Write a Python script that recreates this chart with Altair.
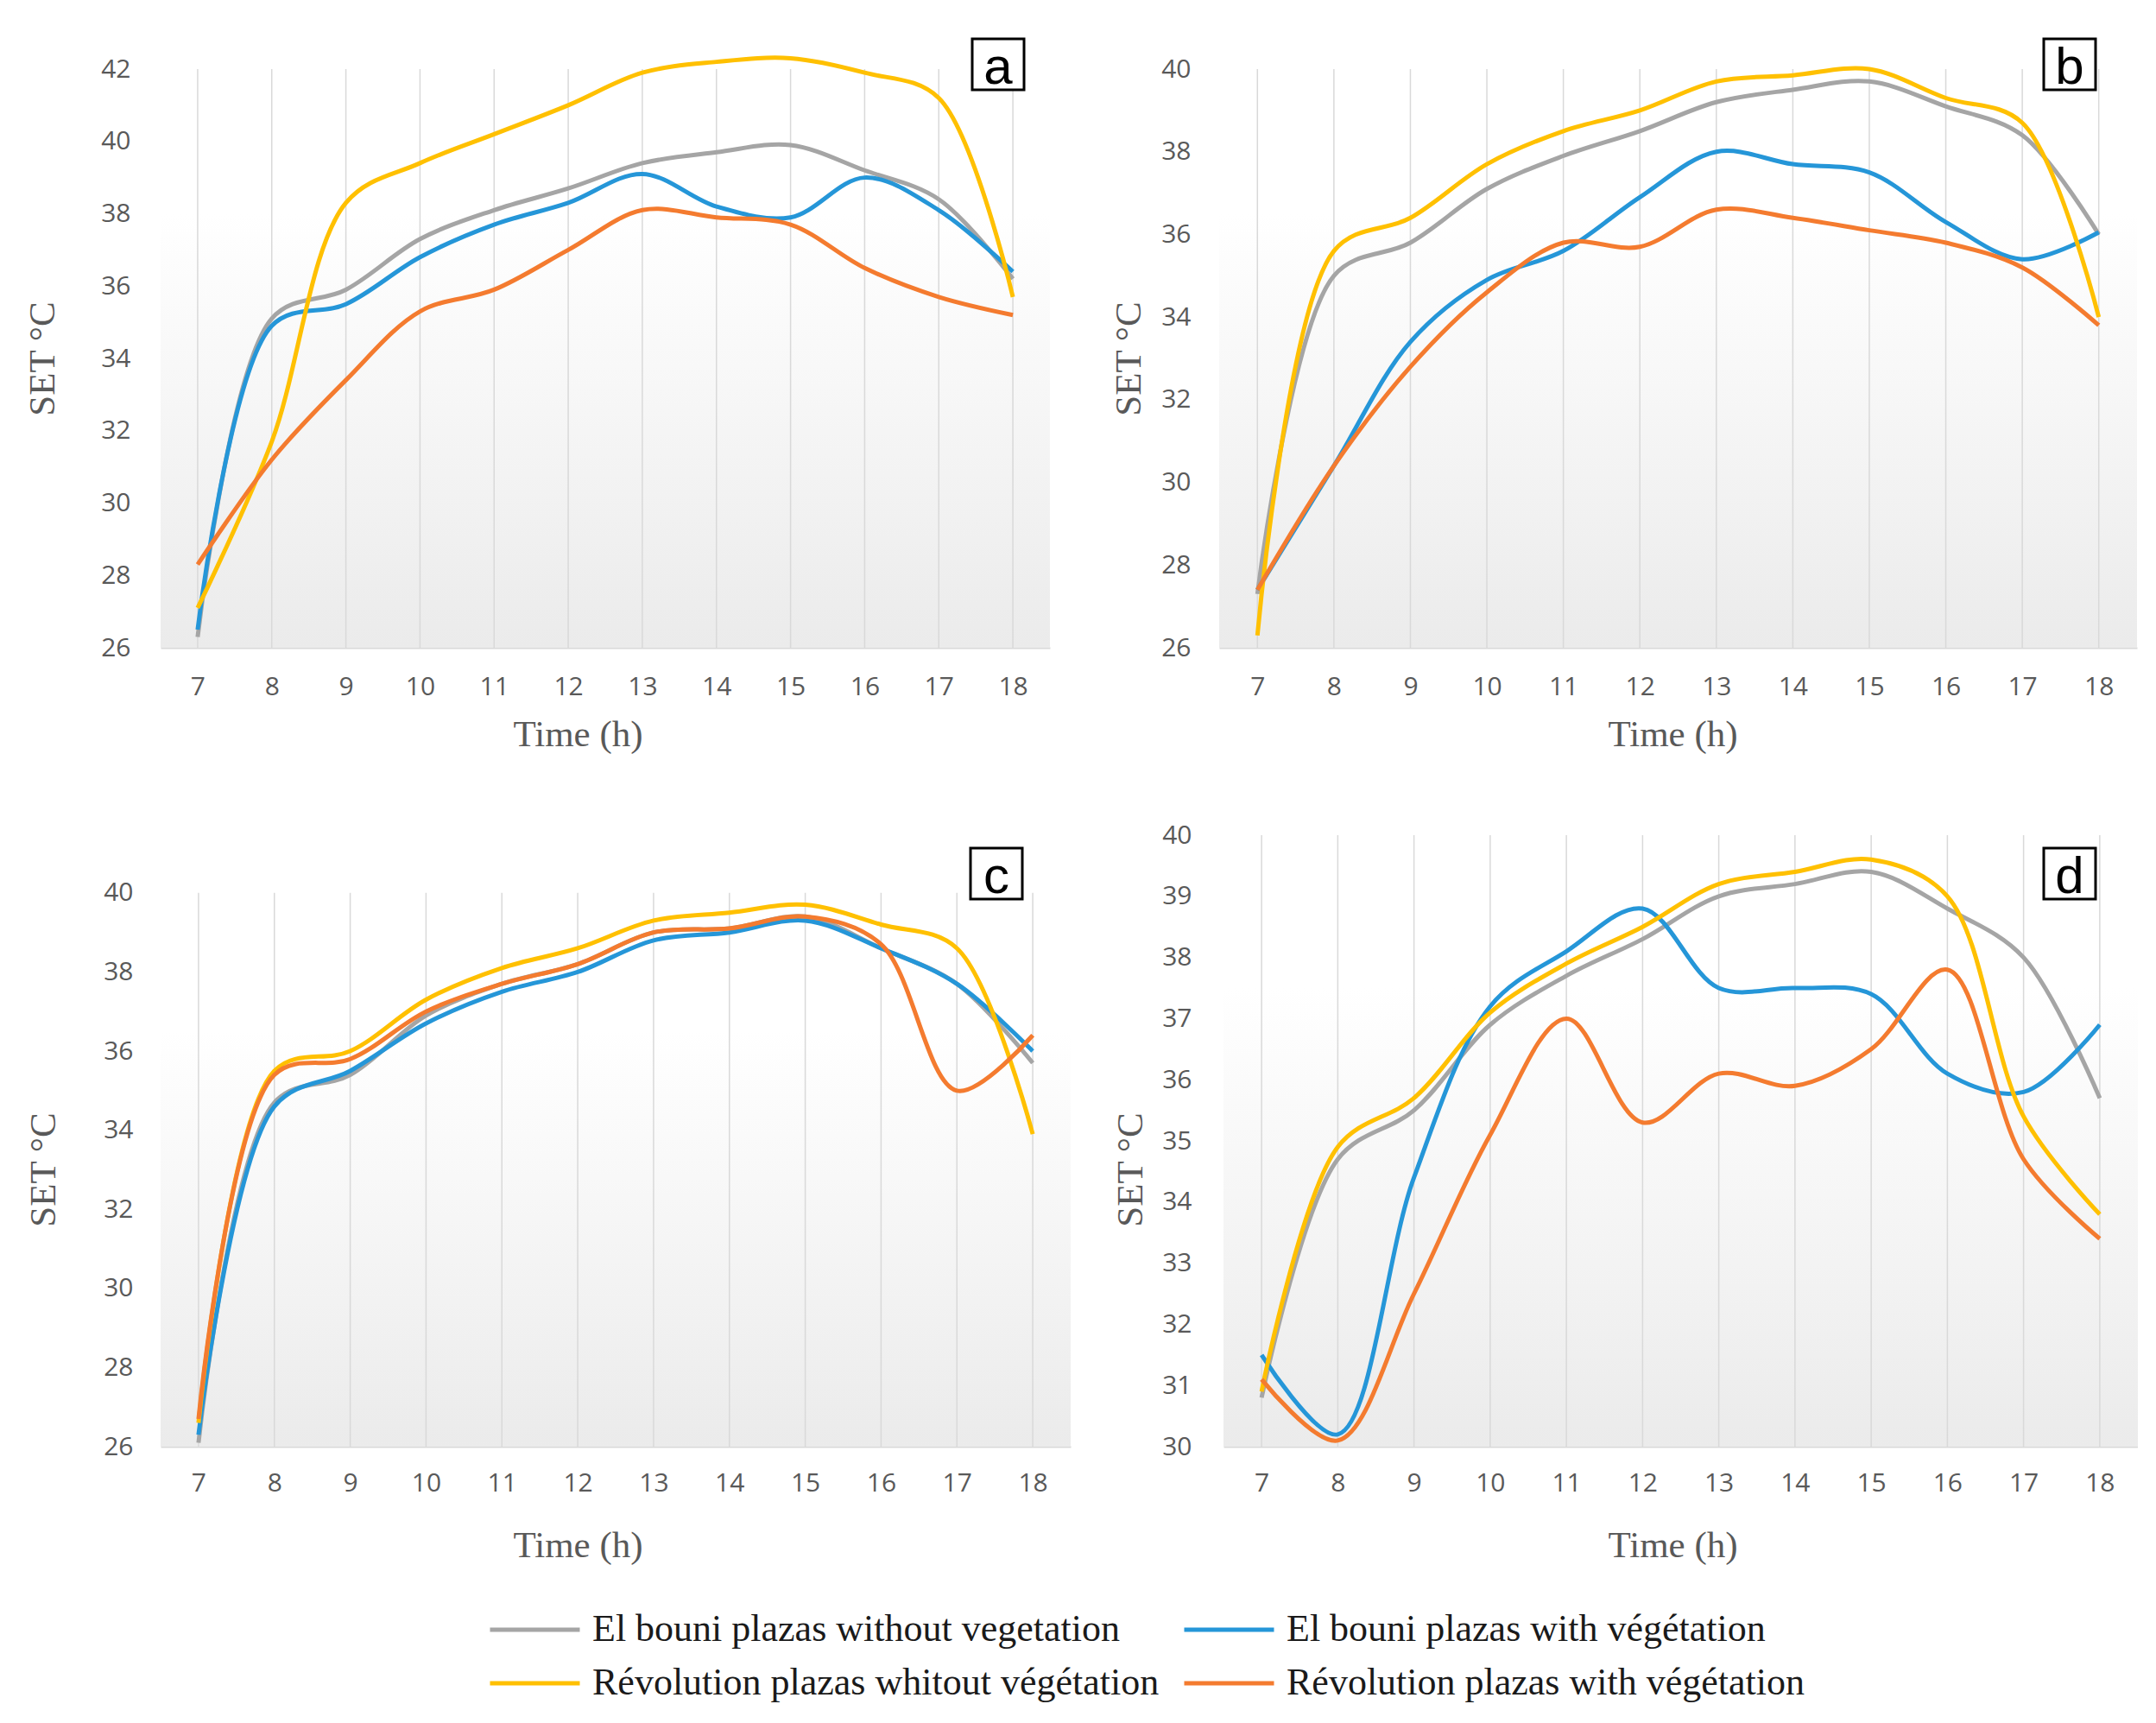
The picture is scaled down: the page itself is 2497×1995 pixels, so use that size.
import altair as alt
import pandas as pd

hours = list(range(7, 19))
series_names = [
    "El bouni plazas without vegetation",
    "El bouni plazas with végétation",
    "Révolution plazas whitout végétation",
    "Révolution plazas with végétation",
]
series_colors = ["#A5A5A5", "#2596D8", "#FFC000", "#F47B2F"]
# legend is filled column by column: this order gives two rows
legend_order = [series_names[0], series_names[2], series_names[1], series_names[3]]
legend_colors = [series_colors[0], series_colors[2], series_colors[1], series_colors[3]]

# Panel a
a_gray = [26.3, 35.1, 35.9, 37.3, 38.1, 38.7, 39.4, 39.7, 39.9, 39.2, 38.4, 36.2]
a_blue = [26.5, 34.9, 35.5, 36.8, 37.7, 38.3, 39.1, 38.2, 37.9, 39.0, 38.1, 36.4]
a_yellow = [27.1, 31.7, 38.3, 39.4, 40.2, 41.0, 41.9, 42.2, 42.3, 41.9, 41.2, 35.7]
a_orange = [28.3, 31.2, 33.4, 35.3, 35.9, 37.0, 38.1, 37.9, 37.7, 36.5, 35.7, 35.2]

# Panel b
b_gray = [27.3, 35.0, 35.8, 37.1, 37.9, 38.5, 39.2, 39.5, 39.7, 39.1, 38.4, 36.0]
b_blue = [27.4, 30.4, 33.4, 34.9, 35.6, 36.9, 38.0, 37.7, 37.5, 36.3, 35.4, 36.05]
b_yellow = [26.3, 35.6, 36.4, 37.7, 38.5, 39.0, 39.7, 39.85, 40.0, 39.3, 38.7, 34.0]
b_orange = [27.4, 30.4, 32.8, 34.6, 35.8, 35.7, 36.6, 36.4, 36.1, 35.8, 35.2, 33.8]

# Panel c
c_gray = [26.1, 34.7, 35.4, 36.9, 37.7, 38.2, 39.0, 39.1, 39.4, 38.6, 37.7, 35.7]
c_blue = [26.3, 34.6, 35.5, 36.7, 37.5, 38.0, 38.8, 39.0, 39.3, 38.6, 37.7, 36.0]
c_yellow = [26.6, 35.5, 36.0, 37.3, 38.1, 38.6, 39.3, 39.5, 39.7, 39.2, 38.6, 33.9]
c_orange = [26.7, 35.4, 35.8, 37.0, 37.7, 38.2, 39.0, 39.1, 39.4, 38.7, 35.0, 36.4]

# Panel d
d_gray = [30.8, 34.7, 35.5, 36.9, 37.7, 38.3, 39.0, 39.2, 39.4, 38.8, 38.0, 35.7]
d_blue = [31.5, 30.2, 34.4, 37.2, 38.1, 38.8, 37.5, 37.5, 37.4, 36.1, 35.8, 36.9]
d_yellow = [30.9, 34.9, 35.7, 37.1, 37.9, 38.5, 39.2, 39.4, 39.6, 39.0, 35.4, 33.8]
d_orange = [31.1, 30.1, 32.5, 35.1, 37.0, 35.3, 36.1, 35.9, 36.5, 37.8, 34.7, 33.4]

ticks_a = [26, 28, 30, 32, 34, 36, 38, 40, 42]
ticks_bc = [26, 28, 30, 32, 34, 36, 38, 40]
ticks_d = [30, 31, 32, 33, 34, 35, 36, 37, 38, 39, 40]

LABEL_FONT = "Open Sans"
TITLE_FONT = "Liberation Serif"
AX_COLOR = "#595959"

legend = alt.Legend(
    orient="none", legendX=379, legendY=1785, columns=2, title=None,
    symbolType="stroke", symbolSize=10816, symbolStrokeWidth=5,
    clipHeight=44, labelFont=TITLE_FONT, labelFontSize=44, labelColor="#1a1a1a",
    labelOffset=12, columnPadding=26, rowPadding=18, padding=0, labelLimit=2000,
)


def long_df(values):
    rows = []
    for name, vals in zip(series_names, values):
        for h, v in zip(hours, vals):
            rows.append({"hour": h, "SET": v, "series": name})
    return pd.DataFrame(rows)


def panel(values, letter, ymin, ymax, ytop, yticks, width, height,
          lab_pad_y, title_pad_y, lab_pad_x, title_pad_x, title_x, title_y, box):
    df = long_df(values)
    grid_df = pd.DataFrame({"hour": hours})
    one = pd.DataFrame({"k": [0]})
    xscale = alt.Scale(domain=[6.5, 18.5], nice=False, zero=False)
    yscale = alt.Scale(domain=[ymin, ytop], nice=False, zero=False)
    xaxis = alt.Axis(
        values=hours, format="d", title="Time (h)", grid=False, ticks=False, tickSize=0,
        domain=True, domainColor="#d9d9d9", domainWidth=2,
        labelPadding=lab_pad_x, titlePadding=title_pad_x, titleX=title_x,
        labelFont=LABEL_FONT, labelFontSize=30, labelColor=AX_COLOR,
        titleFont=TITLE_FONT, titleFontSize=43, titleColor=AX_COLOR,
        titleFontWeight="normal",
    )
    yargs = dict(
        values=yticks, format="d", title="SET °C", grid=False, ticks=False, tickSize=0,
        domain=False, labelPadding=lab_pad_y, titlePadding=title_pad_y,
        labelFont=LABEL_FONT, labelFontSize=30, labelColor=AX_COLOR,
        titleFont=TITLE_FONT, titleFontSize=43, titleColor=AX_COLOR,
        titleFontWeight="normal",
    )
    if title_y is not None:
        yargs["titleY"] = title_y
    yaxis = alt.Axis(**yargs)
    grad = alt.Gradient(
        gradient="linear", x1=0, y1=0, x2=0, y2=1,
        stops=[
            alt.GradientStop(offset=0, color="#ffffff"),
            alt.GradientStop(offset=0.25, color="#ffffff"),
            alt.GradientStop(offset=1, color="#ebebeb"),
        ],
    )
    bg = alt.Chart(one).mark_rect(fill=grad, strokeWidth=0).encode(
        x=alt.datum(6.5), x2=alt.datum(18.5),
        y=alt.datum(ymax), y2=alt.datum(ymin),
    )
    rules = alt.Chart(grid_df).mark_rule(color="#d9d9d9", strokeWidth=1.5).encode(
        x=alt.X("hour:Q", scale=xscale, axis=xaxis),
        y=alt.datum(ymin), y2=alt.datum(ymax),
    )
    lines = alt.Chart(df).mark_line(
        interpolate="catmull-rom", strokeWidth=5
    ).encode(
        x=alt.X("hour:Q", scale=xscale, axis=xaxis),
        y=alt.Y("SET:Q", scale=yscale, axis=yaxis),
        color=alt.Color("series:N", scale=alt.Scale(domain=legend_order, range=legend_colors),
                        legend=legend),
    )
    bx0, bx1, by0, by1, base = box
    boxm = alt.Chart(one).mark_rect(fill="white", stroke="black", strokeWidth=3).encode(
        x=alt.value(bx0), x2=alt.value(bx1), y=alt.value(by0), y2=alt.value(by1)
    )
    txt = alt.Chart(one).mark_text(
        text=letter, font="Liberation Sans", fontSize=60, baseline="alphabetic",
        align="center", color="black",
    ).encode(x=alt.value((bx0 + bx1) / 2), y=alt.value(base))
    return alt.layer(bg, rules, lines, boxm, txt).properties(
        width=width, height=height,
        view=alt.ViewBackground(stroke="transparent", strokeWidth=0, strokeOpacity=0),
    )


pa = panel([a_gray, a_blue, a_yellow, a_orange], "a", 26, 42, 42, ticks_a, 1030, 670,
           35, 45, 30, 19, 483, None, (940, 1000, -35, 24, 17))
pb = panel([b_gray, b_blue, b_yellow, b_orange], "b", 26, 40, 40, ticks_bc, 1063, 670,
           33, 15, 30, 19, 525, None, (955, 1015, -35, 24, 17))
pc = panel([c_gray, c_blue, c_yellow, c_orange], "c", 26, 40, 41.46, ticks_bc, 1054, 708,
           32, 47, 27, 36, 483, 387, (938, 998, 15, 74, 67))
pd_ = panel([d_gray, d_blue, d_yellow, d_orange], "d", 30, 40, 40, ticks_d, 1059, 708,
            37, 14, 27, 36, 520, 387, (950, 1010, 15, 74, 67))

chart = alt.vconcat(
    alt.hconcat(pa, pb, spacing=70),
    alt.hconcat(pc, pd_, spacing=48),
    spacing=80,
).properties(
    padding={"left": 20, "top": 35, "right": 0, "bottom": 0}
).configure_view(stroke="transparent", strokeWidth=0, strokeOpacity=0).configure(background="white")

chart.save("out.html", embed_options={"renderer": "svg", "actions": False})
